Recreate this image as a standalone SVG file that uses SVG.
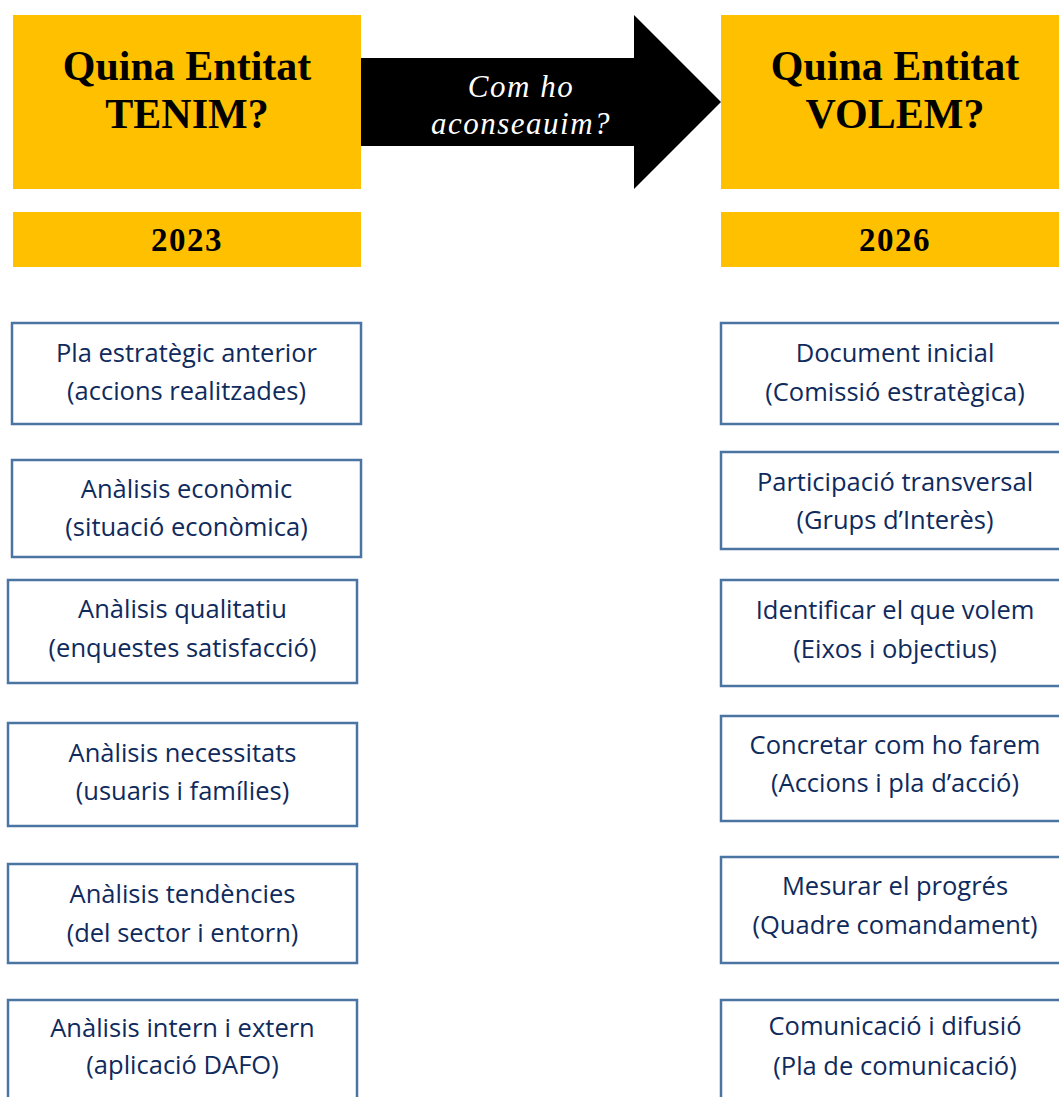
<svg xmlns="http://www.w3.org/2000/svg" width="1059" height="1097" viewBox="0 0 1059 1097">
<style>
.hdr{fill:#FFC000;}
.ht{font-family:"Liberation Serif",serif;font-weight:bold;font-size:42px;fill:#000;text-anchor:middle;}
.yt{font-family:"Liberation Serif",serif;font-weight:bold;font-size:33px;letter-spacing:1.5px;fill:#000;text-anchor:middle;}
.at{font-family:"Liberation Serif",serif;font-style:italic;font-size:31px;letter-spacing:1.5px;fill:#fff;text-anchor:middle;}
.box{fill:#fff;stroke:#4A74A2;stroke-width:2.5;}
.bt{font-family:"Open Sans","Noto Sans",sans-serif;font-size:25.5px;fill:#0F2A5C;text-anchor:middle;}
</style>
<rect width="1059" height="1097" fill="#fff"/>
<g id="connectors">
<g id="arrow">
<polygon points="361,58 634,58 634,15 721,102 634,189 634,146 361,146" fill="#000"/>
<text class="at" x="521" y="97">Com ho</text>
<text class="at" x="521" y="134">aconseauim?</text>
</g>
</g>
<g id="hdr-left">
<rect class="hdr" x="13" y="15" width="348" height="174"/>
<text class="ht" x="187" y="80">Quina Entitat</text>
<text class="ht" x="187" y="128">TENIM?</text>
</g>
<g id="year-left">
<rect class="hdr" x="13" y="212" width="348" height="55"/>
<text class="yt" x="187" y="251">2023</text>
</g>
<g id="hdr-right">
<rect class="hdr" x="721" y="15" width="348" height="174"/>
<text class="ht" x="895" y="80">Quina Entitat</text>
<text class="ht" x="895" y="128">VOLEM?</text>
</g>
<g id="year-right">
<rect class="hdr" x="721" y="212" width="348" height="55"/>
<text class="yt" x="895" y="251">2026</text>
</g>
<g id="l1"><rect class="box" x="12" y="323" width="349" height="101"/>
<text class="bt" x="186.5" y="362">Pla estratègic anterior</text><text class="bt" x="186.5" y="400">(accions realitzades)</text></g>
<g id="l2"><rect class="box" x="12" y="460" width="349" height="97"/>
<text class="bt" x="186.5" y="498">Anàlisis econòmic</text><text class="bt" x="186.5" y="536">(situació econòmica)</text></g>
<g id="l3"><rect class="box" x="8" y="580" width="349" height="103"/>
<text class="bt" x="182.5" y="618">Anàlisis qualitatiu</text><text class="bt" x="182.5" y="657">(enquestes satisfacció)</text></g>
<g id="l4"><rect class="box" x="8" y="723" width="349" height="103"/>
<text class="bt" x="182.5" y="762">Anàlisis necessitats</text><text class="bt" x="182.5" y="800">(usuaris i famílies)</text></g>
<g id="l5"><rect class="box" x="8" y="864" width="349" height="99"/>
<text class="bt" x="182.5" y="903">Anàlisis tendències</text><text class="bt" x="182.5" y="942">(del sector i entorn)</text></g>
<g id="l6"><rect class="box" x="8" y="1000" width="349" height="110"/>
<text class="bt" x="182.5" y="1037">Anàlisis intern i extern</text><text class="bt" x="182.5" y="1074">(aplicació DAFO)</text></g>
<g id="r1"><rect class="box" x="721" y="323" width="348" height="101"/>
<text class="bt" x="895" y="362">Document inicial</text><text class="bt" x="895" y="401">(Comissió estratègica)</text></g>
<g id="r2"><rect class="box" x="721" y="452" width="348" height="97"/>
<text class="bt" x="895" y="491">Participació transversal</text><text class="bt" x="895" y="529">(Grups d’Interès)</text></g>
<g id="r3"><rect class="box" x="721" y="580" width="348" height="106"/>
<text class="bt" x="895" y="619">Identificar el que volem</text><text class="bt" x="895" y="658">(Eixos i objectius)</text></g>
<g id="r4"><rect class="box" x="721" y="716" width="348" height="105"/>
<text class="bt" x="895" y="754">Concretar com ho farem</text><text class="bt" x="895" y="792">(Accions i pla d’acció)</text></g>
<g id="r5"><rect class="box" x="721" y="857" width="348" height="106"/>
<text class="bt" x="895" y="895">Mesurar el progrés</text><text class="bt" x="895" y="934">(Quadre comandament)</text></g>
<g id="r6"><rect class="box" x="721" y="1000" width="348" height="110"/>
<text class="bt" x="895" y="1035">Comunicació i difusió</text><text class="bt" x="895" y="1075">(Pla de comunicació)</text></g>
</svg>
